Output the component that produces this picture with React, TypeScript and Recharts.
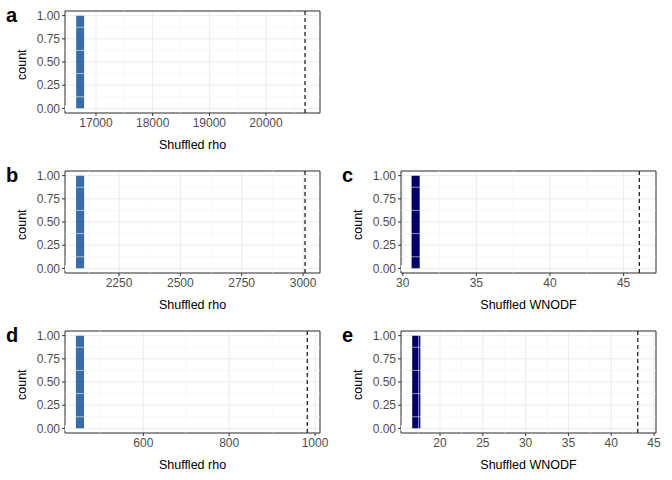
import React from 'react';
import { ComposedChart, XAxis, YAxis, CartesianGrid, ReferenceArea, ReferenceLine, Line } from 'recharts';

// shuffled values fall in a single bin; observed value shown as dashed line
const panelLetters = ['a', 'b', 'c', 'd', 'e'];
const xTitles = ['Shuffled rho', 'Shuffled rho', 'Shuffled WNODF', 'Shuffled rho', 'Shuffled WNODF'];
const binStarts = [16650, 2075, 30.6, 443, 16.75];
const binEnds = [16790, 2108, 31.15, 462, 17.7];
const binCounts = [1, 1, 1, 1, 1];
const observed = [20688, 3008, 46.07, 982, 43.1];
const xDomains: [number, number][] = [[16453, 20952], [2030, 3069], [29.88, 47.2], [417.6, 1011.6], [15.44, 45.23]];
const majorTicks = [
  [17000, 18000, 19000, 20000],
  [2250, 2500, 2750, 3000],
  [30, 35, 40, 45],
  [600, 800, 1000],
  [20, 25, 30, 35, 40, 45],
];
const minorTicks = [
  [16500, 17500, 18500, 19500, 20500],
  [2125, 2375, 2625, 2875],
  [32.5, 37.5, 42.5],
  [500, 700, 900],
  [17.5, 22.5, 27.5, 32.5, 37.5, 42.5],
];
const yTicks = [0, 0.25, 0.5, 0.75, 1];
const yMinor = [0.125, 0.375, 0.625, 0.875];
const fills = ['#3A6CA8', '#3A6CA8', '#000066', '#3A6CA8', '#000066'];
const positions = [[0, 0], [0, 160], [336, 160], [0, 320], [336, 320]];

const font = '"Liberation Sans", Arial, sans-serif';

const Panel: React.FC<{ i: number }> = ({ i }) => {
  const [lo, hi] = xDomains[i];
  return (
    <div style={{ position: 'absolute', left: positions[i][0], top: positions[i][1], width: 336, height: 160 }}>
      <div style={{ position: 'absolute', left: 6, top: 4, fontFamily: font, fontWeight: 'bold', fontSize: 20, color: '#000' }}>
        {panelLetters[i]}
      </div>
      <ComposedChart width={336} height={160} data={[{ x: lo, y: 0 }]} margin={{ top: 11, right: 16, bottom: 7, left: 20 }}
        style={{ fontFamily: font }}>
        <CartesianGrid stroke="#EBEBEB" strokeWidth={1} />
        {minorTicks[i].map((v) => (
          <ReferenceLine key={'mx' + v} x={v} stroke="#F3F3F3" strokeWidth={0.6} />
        ))}
        {yMinor.map((v) => (
          <ReferenceLine key={'my' + v} y={v} stroke="#F3F3F3" strokeWidth={0.6} />
        ))}
        <XAxis type="number" dataKey="x" domain={[lo, hi]} ticks={majorTicks[i]} allowDataOverflow
          height={40} axisLine={false} tickLine={{ stroke: '#333' }} tickSize={3}
          tick={{ fill: '#4D4D4D', fontSize: 12 }}
          label={{ value: xTitles[i], position: 'insideBottom', offset: 4, fill: '#000', fontSize: 12.5 }} />
        <YAxis type="number" domain={[-0.05, 1.05]} ticks={yTicks} allowDataOverflow width={45}
          axisLine={false} tickLine={{ stroke: '#333' }} tickSize={3}
          tickFormatter={(v) => Number(v).toFixed(2)} tick={{ fill: '#4D4D4D', fontSize: 12 }}
          label={{ value: 'count', angle: -90, position: 'insideLeft', offset: 2, fill: '#000', fontSize: 12.5, dy: 18 }} />
        <ReferenceArea x1={binStarts[i]} x2={binEnds[i]} y1={0} y2={binCounts[i]} fill={fills[i]} fillOpacity={1} stroke="none" />
        <ReferenceLine x={observed[i]} stroke="#222" strokeWidth={1.3} strokeDasharray="4 3" />
        <ReferenceArea x1={lo} x2={hi} y1={-0.05} y2={1.05} fill="none" stroke="#333" strokeWidth={1} ifOverflow="visible" />
        <Line dataKey="y" stroke="none" dot={false} isAnimationActive={false} />
      </ComposedChart>
    </div>
  );
};

export default function App() {
  return (
    <div style={{ position: 'absolute', left: 0, top: 0, width: 672, height: 480, background: '#fff' }}>
      {panelLetters.map((_, i) => (
        <Panel key={i} i={i} />
      ))}
    </div>
  );
}
